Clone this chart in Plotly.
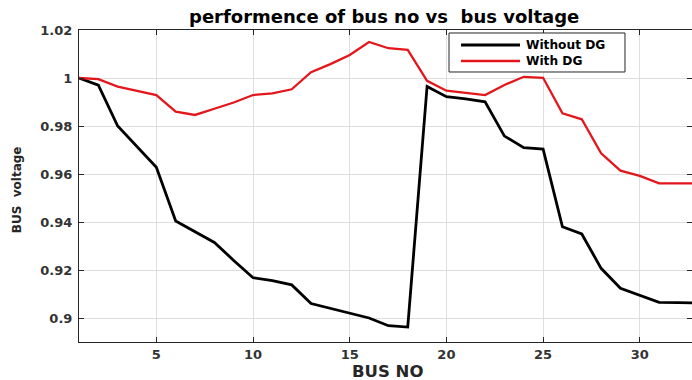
import plotly.graph_objects as go

# Bus numbers of the 33-bus feeder
bus_no = list(range(1, 34))

# Bus voltage (p.u.) without distributed generation
v_without_dg = [1.0000, 0.9970, 0.9800, 0.9714, 0.9628, 0.9404, 0.9360, 0.9315, 0.9240,
                0.9168, 0.9156, 0.9138, 0.9060, 0.9040, 0.9020, 0.9000, 0.8968, 0.8962,
                0.9965, 0.9922, 0.9913, 0.9901, 0.9758, 0.9710, 0.9704, 0.9380, 0.9350,
                0.9207, 0.9124, 0.9096, 0.9065, 0.9064, 0.9063]

# Bus voltage (p.u.) with distributed generation
v_with_dg = [1.0000, 0.9995, 0.9964, 0.9947, 0.9929, 0.9860, 0.9846, 0.9872, 0.9898,
             0.9929, 0.9936, 0.9953, 1.0024, 1.0058, 1.0096, 1.0150, 1.0124, 1.0117,
             0.9988, 0.9947, 0.9939, 0.9929, 0.9971, 1.0005, 1.0001, 0.9853, 0.9828,
             0.9686, 0.9614, 0.9592, 0.9561, 0.9561, 0.9561]

series_names = ["Without DG", "With DG"]
series_colors = ["#000000", "#e3171b"]
series_widths = [2.8, 2.3]

x_ticks = [5, 10, 15, 20, 25, 30]
y_ticks = [0.90, 0.92, 0.94, 0.96, 0.98, 1.00, 1.02]
y_tick_text = ["0.9", "0.92", "0.94", "0.96", "0.98", "1", "1.02"]

FONT = "DejaVu Sans"
AX_COL = "#262626"
GRID_COL = "#dedede"

fig = go.Figure()
for vals, name, col, w in zip([v_without_dg, v_with_dg], series_names, series_colors, series_widths):
    fig.add_trace(go.Scatter(x=bus_no, y=vals, mode="lines", name=name,
                             line=dict(color=col, width=w), showlegend=False))

axis_common = dict(
    showline=True, linecolor=AX_COL, linewidth=1, mirror="ticks",
    ticks="inside", ticklen=5, tickcolor=AX_COL, tickwidth=1,
    showgrid=True, gridcolor=GRID_COL, gridwidth=1, zeroline=False,
    tickfont=dict(family=FONT, size=13, color="#333333", weight="bold"),
)

fig.update_xaxes(range=[1, 32.7], tickvals=x_ticks, **axis_common)
fig.update_yaxes(range=[0.89, 1.02], tickvals=y_ticks, ticktext=y_tick_text,
                 ticklabelstandoff=3, **axis_common)

fig.add_annotation(text="performence of bus no vs  bus voltage", xref="paper", yref="paper",
                   x=0.4976, y=1.043, xanchor="center", yanchor="middle", showarrow=False,
                   font=dict(family=FONT, size=18, color="#000000", weight="bold"))
fig.add_annotation(text="BUS NO", xref="paper", yref="paper",
                   x=0.504, y=-0.096, xanchor="center", yanchor="middle", showarrow=False,
                   font=dict(family=FONT, size=16.5, color=AX_COL, weight="bold"))
fig.add_annotation(text="BUS  voltage", xref="paper", yref="paper", textangle=-90,
                   x=-0.101, y=0.487, xanchor="center", yanchor="middle", showarrow=False,
                   font=dict(family=FONT, size=12, color=AX_COL, weight="bold"))

# Legend box drawn in paper coordinates
fig.add_shape(type="rect", xref="paper", yref="paper", x0=0.6036, x1=0.8907, y0=0.8654, y1=0.9904,
              line=dict(color=AX_COL, width=1), fillcolor="white", layer="above")
legend_rows_y = [0.9519, 0.9006]
for name, col, w, ry in zip(series_names, series_colors, series_widths, legend_rows_y):
    fig.add_shape(type="line", xref="paper", yref="paper", x0=0.6232, x1=0.7194, y0=ry, y1=ry,
                  line=dict(color=col, width=w), layer="above")
    fig.add_annotation(text=name, xref="paper", yref="paper", x=0.7276, y=ry,
                       xanchor="left", yanchor="middle", showarrow=False, borderpad=0,
                       font=dict(family=FONT, size=12.2, color="#000000", weight="bold"))

fig.update_layout(
    width=692, height=380,
    margin=dict(l=79, r=0, t=30, b=38),
    paper_bgcolor="white", plot_bgcolor="white",
    showlegend=False,
)

fig.write_html("out.html")
